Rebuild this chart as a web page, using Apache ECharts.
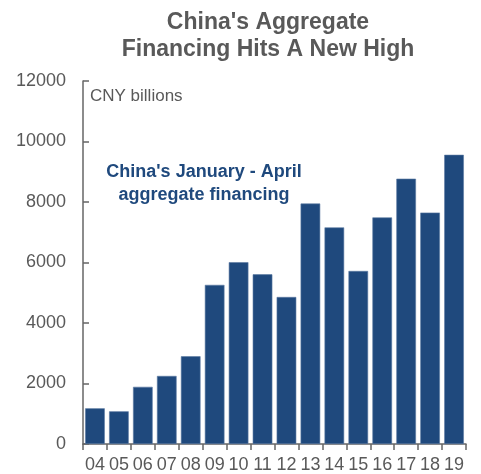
<!DOCTYPE html>
<html><head><meta charset="utf-8">
<script src="https://cdn.jsdelivr.net/npm/echarts@6/dist/echarts.min.js"></script>
<style>html,body{margin:0;padding:0;background:#fff}#c{width:481px;height:474px}</style>
</head><body><div id="c"></div>
<script>
var categories = ['04','05','06','07','08','09','10','11','12','13','14','15','16','17','18','19'];
var financing = [1180, 1080, 1890, 2250, 2900, 5260, 6010, 5610, 4860, 7950, 7160, 5720, 7490, 8770, 7650, 9560];
var yTicks = {min: 0, max: 12000, interval: 2000};

var chart = echarts.init(document.getElementById('c'));
chart.setOption({
  animation: false,
  textStyle: {fontFamily: 'Liberation Sans, Arial, sans-serif'},
  title: {
    text: "China's Aggregate\nFinancing Hits A New High",
    left: 263, top: 4, textAlign: 'center',
    textStyle: {fontSize: 23, fontWeight: 'bold', color: '#595959', lineHeight: 27, fontFamily: 'Liberation Sans, Arial, sans-serif'}
  },
  grid: {left: 83, right: 15, top: 81, bottom: 30},
  xAxis: {
    type: 'category', data: categories,
    axisLine: {lineStyle: {color: '#666', width: 1.5}},
    axisTick: {show: true, length: 6, lineStyle: {color: '#666', width: 1.5}},
    axisLabel: {color: '#595959', fontSize: 18, margin: 12, interval: 0}
  },
  yAxis: {
    type: 'value', min: yTicks.min, max: yTicks.max, interval: yTicks.interval,
    axisLine: {show: true, lineStyle: {color: '#666', width: 1.5}},
    axisTick: {show: true, inside: true, length: 6, lineStyle: {color: '#666', width: 1.5}},
    axisLabel: {color: '#595959', fontSize: 18, margin: 17, formatter: function (v) { return String(v); }},
    splitLine: {show: false}
  },
  graphic: [
    {type: 'text', left: 90, top: 88, style: {text: 'CNY billions', fontSize: 17, fill: '#595959', fontFamily: 'Liberation Sans, Arial, sans-serif'}},
    {type: 'text', x: 204, y: 161, style: {text: "China's January - April\naggregate financing", fontSize: 18, fontWeight: 'bold', fill: '#1f497d', align: 'center', lineHeight: 23, fontFamily: 'Liberation Sans, Arial, sans-serif'}}
  ],
  series: [{
    type: 'bar', data: financing, barCategoryGap: '18%',
    itemStyle: {color: '#1f497d', borderColor: '#5c7ba3', borderWidth: 0.6}
  }]
});
</script></body></html>
